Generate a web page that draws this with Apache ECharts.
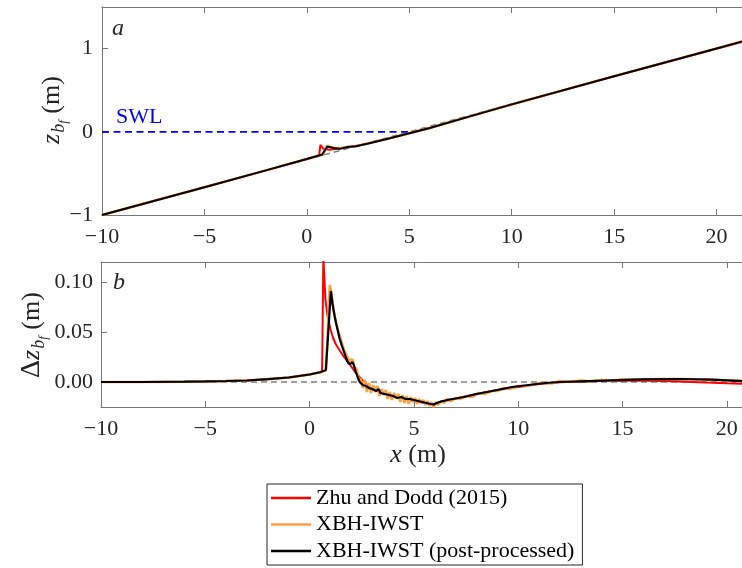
<!DOCTYPE html>
<html>
<head>
<meta charset="utf-8">
<script src="https://cdn.jsdelivr.net/npm/echarts@6/dist/echarts.min.js"></script>
<style>
  html, body { margin: 0; padding: 0; background: #fff; }
  #chart { width: 742px; height: 568px; }
</style>
</head>
<body>
<div id="chart"></div>
<script>
// ---- tick positions ----
const xTicks = [-10, -5, 0, 5, 10, 15, 20];
const zTicks = [-1, 0, 1];
const dzTicks = [0, 0.05, 0.1];

// ---- panel a: bed level z_bf (m) ----
const initBedX = [-10, 21.3];
const initBedZ = [-1.0, 1.087];
const swlX = [-10, 5];
const swlZ = [0, 0];

const bedZhuX = [-10, -5, -2, 0, 0.6, 0.66, 0.8, 1.1, 1.5, 2.0, 2.5, 3.0, 4.0, 5.0, 6.0, 8.0, 10, 15, 20, 21.3];
const bedZhuZ = [-1.0, -0.666, -0.464, -0.326, -0.283, -0.156, -0.203, -0.215, -0.203, -0.183, -0.165, -0.139, -0.081, -0.019, 0.045, 0.188, 0.328, 0.668, 0.999, 1.085];

const bedRawX = [-10, -5, -2, 0, 0.78, 0.97, 1.3, 1.6, 2.0, 2.4, 3.0, 3.5, 4.0, 5.0, 6.0, 8.0, 10, 15, 20, 21.3];
const bedRawZ = [-1.0, -0.666, -0.464, -0.326, -0.273, -0.170, -0.190, -0.198, -0.180, -0.172, -0.139, -0.110, -0.080, -0.017, 0.046, 0.189, 0.330, 0.669, 1.002, 1.089];

const bedPostX = [-10, -5, -2, 0, 0.75, 1.0, 1.3, 1.6, 2.0, 2.4, 3.0, 3.5, 4.0, 5.0, 6.0, 8.0, 10, 15, 20, 21.3];
const bedPostZ = [-1.0, -0.666, -0.464, -0.326, -0.272, -0.177, -0.194, -0.205, -0.182, -0.173, -0.140, -0.111, -0.081, -0.018, 0.045, 0.188, 0.330, 0.668, 1.002, 1.089];

// ---- panel b: bed change dz_bf (m) ----
const zeroX = [-10, 20.8];
const zeroDz = [0, 0];

const dzZhuX = [-10, -8, -6, -5, -4, -3, -2, -1, 0, 0.5, 0.6, 0.66, 0.76, 0.87, 1.0, 1.11, 1.25, 1.43, 1.65, 1.91, 2.15, 2.39, 2.71, 3.0, 3.5, 4.0, 4.5, 5.0, 5.5, 5.9, 6.3, 7.0, 8.0, 9.0, 10, 11, 12, 13, 14, 15, 16, 17, 18, 19, 20, 20.8];
const dzZhu = [0, 0, 0.0003, 0.0006, 0.001, 0.0015, 0.0028, 0.0045, 0.0075, 0.0098, 0.0105, 0.125, 0.082, 0.065, 0.053, 0.045, 0.038, 0.032, 0.025, 0.018, 0.011, 0.005, -0.002, -0.006, -0.010, -0.014, -0.017, -0.019, -0.021, -0.0225, -0.020, -0.0165, -0.012, -0.008, -0.005, -0.002, -0.0003, 0.0005, 0.001, 0.0013, 0.0013, 0.001, 0.0003, -0.0005, -0.0012, -0.0017];

const dzRawX = [-10, -8, -6, -5, -4, -3, -2, -1, 0, 0.5, 0.78, 0.85, 0.97, 1.05, 1.15, 1.25, 1.35, 1.45, 1.55, 1.65, 1.75, 1.85, 1.95, 2.05, 2.15, 2.25, 2.35, 2.45, 2.55, 2.65, 2.75, 2.85, 2.95, 3.05, 3.15, 3.25, 3.35, 3.45, 3.55, 3.65, 3.75, 3.85, 3.95, 4.05, 4.15, 4.25, 4.35, 4.45, 4.55, 4.65, 4.75, 4.85, 4.95, 5.05, 5.15, 5.25, 5.35, 5.45, 5.55, 5.65, 5.75, 5.85, 5.95, 6.05, 6.15, 6.3, 6.45, 6.6, 6.8, 7.0, 7.2, 7.5, 7.8, 8.1, 8.4, 8.7, 9.0, 9.3, 9.6, 10.0, 10.4, 10.8, 11.2, 11.6, 12.0, 12.5, 13.0, 13.5, 14.0, 14.5, 15.0, 16.0, 17.0, 18.0, 19.0, 20.0, 20.8];
const dzRaw = [0, 0, 0.0003, 0.0006, 0.001, 0.0015, 0.0028, 0.0045, 0.0075, 0.0098, 0.0115, 0.040, 0.097, 0.088, 0.072, 0.060, 0.053, 0.046, 0.039, 0.032, 0.028, 0.023, 0.021, 0.023, 0.015, 0.013, 0.003, 0.003, -0.006, 0.002, -0.010, -0.001, -0.011, -0.003, -0.010, -0.004, -0.014, -0.007, -0.013, -0.008, -0.017, -0.010, -0.018, -0.011, -0.016, -0.012, -0.020, -0.013, -0.021, -0.014, -0.022, -0.015, -0.020, -0.016, -0.022, -0.017, -0.021, -0.018, -0.023, -0.019, -0.024, -0.020, -0.025, -0.020, -0.023, -0.019, -0.021, -0.017, -0.019, -0.016, -0.017, -0.014, -0.015, -0.011, -0.012, -0.009, -0.009, -0.006, -0.007, -0.004, -0.004, -0.002, -0.0005, -0.0015, 0.001, 0.0000, 0.0015, 0.0008, 0.002, 0.0014, 0.0028, 0.0028, 0.003, 0.003, 0.0025, 0.0018, 0.0012];

const dzPostX = [-10, -8, -6, -5, -4, -3, -2, -1, 0, 0.5, 0.78, 1.02, 1.1, 1.2, 1.28, 1.43, 1.55, 1.67, 1.75, 1.85, 1.95, 2.05, 2.12, 2.2, 2.3, 2.4, 2.55, 2.7, 2.85, 3.0, 3.2, 3.3, 3.4, 3.6, 3.8, 4.0, 4.2, 4.4, 4.6, 4.8, 5.0, 5.2, 5.4, 5.6, 5.8, 5.95, 6.1, 6.3, 6.6, 7.0, 7.4, 8.0, 8.5, 9.0, 9.7, 10.5, 11.3, 12.0, 13.0, 14.5, 16.0, 17.7, 19.3, 20.8];
const dzPost = [0, 0, 0.0003, 0.0006, 0.001, 0.0015, 0.0028, 0.0045, 0.0075, 0.0098, 0.012, 0.091, 0.078, 0.066, 0.058, 0.044, 0.036, 0.029, 0.024, 0.019, 0.018, 0.020, 0.017, 0.011, 0.005, 0.000, -0.003, -0.004, -0.006, -0.007, -0.009, -0.007, -0.011, -0.012, -0.013, -0.014, -0.016, -0.015, -0.017, -0.017, -0.018, -0.019, -0.020, -0.021, -0.022, -0.0225, -0.021, -0.0195, -0.018, -0.0165, -0.015, -0.012, -0.010, -0.008, -0.005, -0.003, -0.001, 0.0, 0.0007, 0.0017, 0.0027, 0.003, 0.0024, 0.0009];

// ---- styling ----
const SERIF = "'Liberation Serif', 'DejaVu Serif', serif";
const AXIS_COLOR = '#777777';
const TEXT_COLOR = '#262626';
const RED = '#ff0000';
const ORANGE = '#ffa040';
const BLACK = '#000000';

const pairs = (xs, ys) => xs.map((x, i) => [x, ys[i]]);
const fmtInt = v => (v < 0 ? '\u2212' + Math.abs(v) : String(v));

function xAxisPair(gridIndex, max) {
  const base = {
    gridIndex, type: 'value', min: -10, max,
    axisLine: { show: true, onZero: false, lineStyle: { color: AXIS_COLOR, width: 1 } },
    axisTick: { show: true, inside: true, length: 6, customValues: xTicks, lineStyle: { color: AXIS_COLOR } },
    splitLine: { show: false }
  };
  return [
    Object.assign({}, base, {
      position: 'bottom',
      axisLabel: { show: true, customValues: xTicks, formatter: fmtInt, margin: 11,
        fontFamily: SERIF, fontSize: 22, color: TEXT_COLOR }
    }),
    Object.assign({}, base, { position: 'top', axisLabel: { show: false } })
  ];
}

const line = (name, data, color, width, xi, yi, extra) => Object.assign({
  name, type: 'line', data, xAxisIndex: xi, yAxisIndex: yi,
  showSymbol: false, symbol: 'none', smooth: false, clip: true, silent: true,
  lineStyle: { color, width }, itemStyle: { color }
}, extra || {});

const ZHU = 'Zhu and Dodd (2015)';
const RAW = 'XBH-IWST';
const POST = 'XBH-IWST (post-processed)';

const option = {
  animation: false,
  backgroundColor: '#ffffff',
  grid: [
    { left: 102, top: 7, width: 640, height: 208 },
    { left: 101, top: 262, width: 641, height: 145 }
  ],
  xAxis: [].concat(xAxisPair(0, 21.24), xAxisPair(1, 20.73)),
  yAxis: [
    {
      gridIndex: 0, type: 'value', min: -1, max: 1.5,
      axisLine: { show: true, onZero: false, lineStyle: { color: AXIS_COLOR } },
      axisTick: { show: true, inside: true, length: 6, customValues: zTicks, lineStyle: { color: AXIS_COLOR } },
      axisLabel: { customValues: zTicks, formatter: fmtInt, margin: 9, fontFamily: SERIF, fontSize: 22, color: TEXT_COLOR },
      splitLine: { show: false }
    },
    {
      gridIndex: 1, type: 'value', min: -0.025, max: 0.12,
      axisLine: { show: true, onZero: false, lineStyle: { color: AXIS_COLOR } },
      axisTick: { show: true, inside: true, length: 6, customValues: dzTicks, lineStyle: { color: AXIS_COLOR } },
      axisLabel: { customValues: dzTicks, formatter: v => v.toFixed(2), margin: 8, fontFamily: SERIF, fontSize: 22, color: TEXT_COLOR },
      splitLine: { show: false }
    }
  ],
  legend: {
    show: true,
    orient: 'vertical',
    left: 267, top: 484,
    data: [ZHU, RAW, POST],
    icon: 'rect',
    itemWidth: 40, itemHeight: 2.5,
    itemGap: 4.5,
    padding: [3, 8, 3, 4],
    borderColor: '#262626', borderWidth: 1,
    backgroundColor: '#ffffff',
    selectedMode: false,
    textStyle: { fontFamily: SERIF, fontSize: 22, lineHeight: 22, color: '#000' }
  },
  series: [
    // panel a
    line('initial bed a', pairs(initBedX, initBedZ), '#808080', 1.5, 0, 0, { lineStyle: { color: '#808080', width: 1.5, type: [6, 4] } }),
    line('SWL', pairs(swlX, swlZ), '#0000ff', 1.8, 0, 0, { lineStyle: { color: '#0000ff', width: 1.8, type: [7, 4.5] } }),
    line(ZHU, pairs(bedZhuX, bedZhuZ), RED, 2, 0, 0),
    line(RAW, pairs(bedRawX, bedRawZ), ORANGE, 2.4, 0, 0),
    line(POST, pairs(bedPostX, bedPostZ), BLACK, 2, 0, 0),
    // panel b
    line('zero b', pairs(zeroX, zeroDz), '#808080', 1.5, 2, 1, { lineStyle: { color: '#808080', width: 1.5, type: [6, 4] } }),
    line(ZHU, pairs(dzZhuX, dzZhu), RED, 2, 2, 1),
    line(RAW, pairs(dzRawX, dzRaw), ORANGE, 2.6, 2, 1),
    line(POST, pairs(dzPostX, dzPost), BLACK, 2.2, 2, 1)
  ],
  graphic: [
    { type: 'text', x: 112, y: 17, style: { text: 'a', font: 'italic 24px ' + SERIF, fill: TEXT_COLOR } },
    { type: 'text', x: 113, y: 271, style: { text: 'b', font: 'italic 24px ' + SERIF, fill: TEXT_COLOR } },
    { type: 'text', x: 116, y: 106, style: { text: 'SWL', font: '22px ' + SERIF, fill: '#0000ff' } },
    {
      type: 'text', x: 52, y: 110, rotation: Math.PI / 2,
      style: {
        text: '{z|z}{b|b}{f|f}{n| (m)}',
        align: 'center', verticalAlign: 'middle', fill: TEXT_COLOR,
        rich: {
          z: { fontFamily: SERIF, fontStyle: 'italic', fontSize: 26, lineHeight: 36, verticalAlign: 'middle', fill: TEXT_COLOR },
          b: { fontFamily: SERIF, fontStyle: 'italic', fontSize: 18, lineHeight: 18, verticalAlign: 'bottom', padding: [0, 0, 2, 1], fill: TEXT_COLOR },
          f: { fontFamily: SERIF, fontStyle: 'italic', fontSize: 13, lineHeight: 13, verticalAlign: 'bottom', padding: [0, 0, 0, 0], fill: TEXT_COLOR },
          n: { fontFamily: SERIF, fontSize: 26, lineHeight: 36, verticalAlign: 'middle', fill: TEXT_COLOR }
        }
      }
    },
    {
      type: 'text', x: 32, y: 335, rotation: Math.PI / 2,
      style: {
        text: '{d|\u0394}{z|z}{b|b}{f|f}{n| (m)}',
        align: 'center', verticalAlign: 'middle', fill: TEXT_COLOR,
        rich: {
          d: { fontFamily: SERIF, fontSize: 28, lineHeight: 36, verticalAlign: 'middle', fill: TEXT_COLOR },
          z: { fontFamily: SERIF, fontStyle: 'italic', fontSize: 26, lineHeight: 36, verticalAlign: 'middle', fill: TEXT_COLOR },
          b: { fontFamily: SERIF, fontStyle: 'italic', fontSize: 18, lineHeight: 18, verticalAlign: 'bottom', padding: [0, 0, 2, 1], fill: TEXT_COLOR },
          f: { fontFamily: SERIF, fontStyle: 'italic', fontSize: 13, lineHeight: 13, verticalAlign: 'bottom', fill: TEXT_COLOR },
          n: { fontFamily: SERIF, fontSize: 26, lineHeight: 36, verticalAlign: 'middle', fill: TEXT_COLOR }
        }
      }
    },
    {
      type: 'text', x: 418, y: 455,
      style: {
        text: '{x|x}{n| (m)}',
        align: 'center', verticalAlign: 'middle', fill: TEXT_COLOR,
        rich: {
          x: { fontFamily: SERIF, fontStyle: 'italic', fontSize: 26, fill: TEXT_COLOR },
          n: { fontFamily: SERIF, fontSize: 26, fill: TEXT_COLOR }
        }
      }
    }
  ]
};

const chart = echarts.init(document.getElementById('chart'), null, { renderer: 'canvas' });
chart.setOption(option);
</script>
</body>
</html>
